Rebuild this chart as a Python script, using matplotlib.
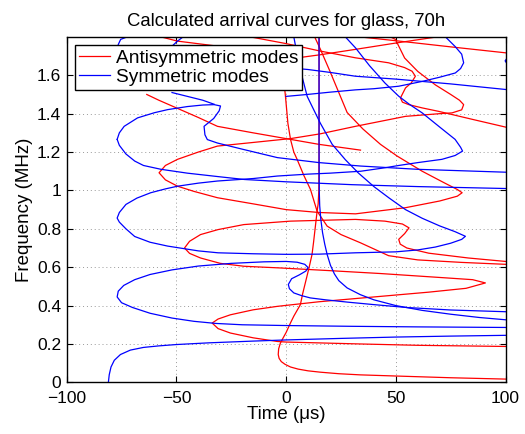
import matplotlib
matplotlib.use("Agg")
import matplotlib.pyplot as plt
from matplotlib.ticker import FuncFormatter

# ---------------- data (time in us, frequency in MHz) ----------------
# Antisymmetric (red) curves
a0_t = [15, 15, 14.9, 14.6, 14.1, 13.3, 12.5, 11.8, 10.5, 9, 7.5, 6.5, 5, 3.5, 2, 1.2, 0, -1.2, -2.6, -3.4, -3.6, -3.2, -2.2, -0.5, 2, 5.5, 10, 15.6, 24, 33.8, 50, 75, 100]
a0_f = [1.80, 1.2, 1.0, 0.93, 0.89, 0.81, 0.73, 0.666, 0.6, 0.53, 0.46, 0.405, 0.375, 0.345, 0.31, 0.29, 0.26, 0.235, 0.205, 0.175, 0.145, 0.125, 0.108, 0.094, 0.08, 0.069, 0.06, 0.053, 0.045, 0.039, 0.033, 0.024, 0.017]

a1_t = [100, 60, 33.9, 0, -4, -15, -25.4, -31, -33.7, -31, -25.4, -15, -4, 15, 43, 65, 82, 90.8, 85, 73.3, 43, 20, -2.6, -19.3, -30, -39, -44, -46.3, -44, -39, -31, -19.3, 2, 31.6, 45, 53, 56, 54, 51.3, 52, 55, 65, 83, 100]
a1_f = [0.187, 0.193, 0.2, 0.21, 0.213, 0.232, 0.257, 0.28, 0.309, 0.33, 0.352, 0.378, 0.396, 0.42, 0.448, 0.47, 0.49, 0.518, 0.535, 0.544, 0.567, 0.582, 0.596, 0.605, 0.62, 0.648, 0.672, 0.70, 0.735, 0.77, 0.796, 0.822, 0.84, 0.849, 0.84, 0.825, 0.805, 0.775, 0.745, 0.72, 0.70, 0.673, 0.648, 0.63]

a2_t = [13, 15.6, 20, 27.8, 35, 43, 50.6, 62, 72, 78, 80.2, 78, 70, 54.4, 31.6, 15, 0, -15, -31.3, -42, -49.5, -55, -57.9, -55, -49.5, -40, -31.3, -15, 2, 15.6, 31.6, 54.4, 70, 75.6, 80, 80.9, 79, 75, 68, 60, 54, 49.8, 47.5]
a2_f = [1.80, 1.736, 1.62, 1.406, 1.32, 1.24, 1.179, 1.10, 1.04, 1.005, 0.988, 0.97, 0.945, 0.91, 0.878, 0.885, 0.9, 0.93, 0.962, 0.995, 1.022, 1.055, 1.092, 1.13, 1.162, 1.2, 1.231, 1.25, 1.27, 1.295, 1.334, 1.386, 1.40, 1.404, 1.42, 1.447, 1.47, 1.50, 1.55, 1.62, 1.69, 1.787, 1.80]

a3_t = [-1.5, -0.3, 0.8, 2, 3.5, 5, 8, 11.1, 14.1, 18.7, 25, 33.9, 46.7, 60, 80, 100]
a3_f = [1.62, 1.49, 1.35, 1.266, 1.2, 1.162, 1.08, 1.005, 0.892, 0.814, 0.77, 0.727, 0.66, 0.638, 0.625, 0.615]

a4_t = [-16.3, 0, 15.6, 31.6, 46.7, 54, 57.4, 58.9, 57, 54.4, 52.1, 53, 55.9, 62, 69.5, 85, 100]
a4_f = [1.80, 1.765, 1.726, 1.691, 1.665, 1.64, 1.621, 1.595, 1.56, 1.534, 1.482, 1.46, 1.447, 1.43, 1.412, 1.37, 1.33]

a5_t = [-63.5, -58, -50, -40, -31.3, -15, 2, 15, 33.9]
a5_f = [1.50, 1.47, 1.43, 1.38, 1.334, 1.30, 1.266, 1.24, 1.21]

a6_t = [-5, 15.6, 31.6, 50, 68.8]
a6_f = [1.675, 1.707, 1.735, 1.768, 1.80]

a7_t = [33.6, 50, 75, 100]
a7_f = [1.80, 1.78, 1.748, 1.717]

a8_t = [-57, -49.5, -30, -10]
a8_f = [1.80, 1.778, 1.75, 1.73]

# Symmetric (blue) curves
s1_t = [-81, -80.6, -79.8, -78.3, -75.5, -71, -65, -58, -50, -35, -15, 0, 25, 50, 75, 100]
s1_f = [0, 0.04, 0.08, 0.115, 0.145, 0.168, 0.182, 0.19, 0.197, 0.206, 0.215, 0.221, 0.229, 0.236, 0.241, 0.245]

s2_t = [100, 60, 30, 0, -20, -32, -42, -52, -62, -70, -75, -77, -76.5, -74, -69, -62, -52, -40, -25, -10, 0, 5, 8.5, 10, 9, 6, 2.5, 1, 1.5, 3.5, 7, 11, 18, 28, 40, 55, 75, 100]
s2_f = [0.286, 0.289, 0.292, 0.296, 0.300, 0.307, 0.318, 0.335, 0.360, 0.390, 0.415, 0.445, 0.475, 0.505, 0.535, 0.562, 0.586, 0.606, 0.620, 0.628, 0.630, 0.626, 0.615, 0.598, 0.58, 0.56, 0.54, 0.51, 0.488, 0.466, 0.452, 0.44, 0.43, 0.418, 0.405, 0.39, 0.377, 0.368]

s0_t = [15, 15, 15.1, 15.3, 15.8, 16.6, 17.6, 18.7, 20.2, 22, 24, 27.8, 33.8, 40, 50, 62, 75, 88, 100]
s0_f = [1.80, 1.2, 1.0, 0.92, 0.85, 0.78, 0.72, 0.666, 0.61, 0.565, 0.53, 0.492, 0.457, 0.43, 0.40, 0.375, 0.355, 0.338, 0.326]

s3_t = [3.5, 6, 9.6, 15.6, 21, 27, 33, 40, 47, 54.4, 62, 70, 77, 81.7, 80, 75, 68, 60, 50, 31.6, 15, 0, -15, -31, -40, -54, -62, -69, -73, -76, -77, -76, -73, -68, -61.7, -55, -49.5, -40, -31.3, -15, -4, 10, 20, 34, 45, 51.3, 60, 71, 77, 80.4, 79.5, 77, 70, 62, 56, 51.3, 45, 38, 31.6, 29, 27]
s3_f = [1.80, 1.65, 1.49, 1.35, 1.24, 1.16, 1.09, 1.02, 0.96, 0.90, 0.855, 0.815, 0.785, 0.761, 0.745, 0.725, 0.705, 0.69, 0.68, 0.675, 0.668, 0.667, 0.670, 0.675, 0.685, 0.71, 0.73, 0.76, 0.80, 0.835, 0.856, 0.885, 0.927, 0.96, 0.988, 1.008, 1.022, 1.038, 1.049, 1.062, 1.075, 1.085, 1.09, 1.10, 1.118, 1.13, 1.145, 1.162, 1.182, 1.205, 1.225, 1.266, 1.33, 1.404, 1.45, 1.491, 1.56, 1.65, 1.743, 1.775, 1.80]

s4_t = [100, 60, 30, 0, -19, -31, -45, -57, -65, -69, -73, -76, -77]
s4_f = [1.01, 1.02, 1.03, 1.045, 1.057, 1.072, 1.09, 1.11, 1.13, 1.153, 1.19, 1.235, 1.266]

s5_t = [-77, -76, -73.8, -67.7, -60, -54, -45, -38, -32.8, -29.9, -30.5, -33, -37.4, -37, -35.9, -31.3, -20, -4, 15, 34, 60, 100]
s5_f = [1.266, 1.30, 1.334, 1.378, 1.405, 1.421, 1.437, 1.445, 1.447, 1.44, 1.415, 1.375, 1.334, 1.29, 1.265, 1.247, 1.215, 1.171, 1.145, 1.127, 1.11, 1.095]

s6_t = [72.6, 77, 80, 80.9, 79.5, 77.1, 70, 62, 51.3, 40, 31.6, 20, 9.6, 0]
s6_f = [1.80, 1.75, 1.71, 1.665, 1.635, 1.612, 1.59, 1.568, 1.543, 1.53, 1.524, 1.512, 1.50, 1.49]

s7_t = [0, 10, 20, 31.6, 50, 75, 100]
s7_f = [1.64, 1.63, 1.615, 1.595, 1.58, 1.555, 1.526]

s8_t = [-77, -76.5, -75.4, -71.5]
s8_f = [1.70, 1.76, 1.787, 1.804]

s9_t = [-55, -49.5, -46.5]
s9_f = [1.72, 1.778, 1.804]

s10_t = [101, 99.8, 101]
s10_f = [1.695, 1.675, 1.655]

s11_t = [-52, -45, -38, -32.8]
s11_f = [1.51, 1.49, 1.47, 1.449]

red_curves = [(a0_t, a0_f), (a1_t, a1_f), (a2_t, a2_f), (a3_t, a3_f), (a4_t, a4_f),
              (a5_t, a5_f), (a6_t, a6_f), (a7_t, a7_f), (a8_t, a8_f)]
blue_curves = [(s1_t, s1_f), (s2_t, s2_f), (s0_t, s0_f), (s3_t, s3_f), (s4_t, s4_f),
               (s5_t, s5_f), (s6_t, s6_f), (s7_t, s7_f), (s8_t, s8_f), (s9_t, s9_f),
               (s10_t, s10_f), (s11_t, s11_f)]

x_ticks = [-100, -50, 0, 50, 100]
y_ticks = [0, 0.2, 0.4, 0.6, 0.8, 1.0, 1.2, 1.4, 1.6]

# ---------------- plot ----------------
plt.rcParams['font.family'] = ['Liberation Sans', 'DejaVu Sans']
fig = plt.figure(figsize=(5.25, 4.34), dpi=100)
ax = fig.add_axes([0.127, 0.119, 0.836, 0.796])

for i, (t, f) in enumerate(red_curves):
    ax.plot(t, f, color='#ff0000', lw=0.9, label='Antisymmetric modes' if i == 0 else None, zorder=2)
for i, (t, f) in enumerate(blue_curves):
    ax.plot(t, f, color='#0000ff', lw=0.9, label='Symmetric modes' if i == 0 else None, zorder=2)

ax.set_xlim(-100, 100)
ax.set_ylim(0, 1.8)
ax.set_xticks(x_ticks)
ax.set_yticks(y_ticks)
ax.yaxis.set_major_formatter(FuncFormatter(lambda v, p: '%g' % v))
ax.tick_params(direction='in', length=4, labelsize=12.5, top=True, right=True)
ax.tick_params(axis='x', pad=6.5)
ax.tick_params(axis='y', pad=4)
ax.grid(True, linestyle=(0, (1, 3)), color='#999999', lw=0.7)
ax.set_axisbelow(True)
for s in ax.spines.values():
    s.set_linewidth(1.0)

ax.set_xlabel('Time (\u03bcs)', fontsize=13.5, labelpad=0)
ax.set_ylabel('Frequency (MHz)', fontsize=13.5, labelpad=3)
ax.set_title('Calculated arrival curves for glass, 70h', fontsize=13.3, pad=8)

leg = ax.legend(loc='upper left', fontsize=13.8, frameon=True, fancybox=False,
                edgecolor='black', framealpha=1, borderpad=0.22, labelspacing=0.08,
                handlelength=1.6, handletextpad=0.32, borderaxespad=0.42)
leg.get_frame().set_linewidth(1.0)

fig.savefig('out.png', dpi=100)
